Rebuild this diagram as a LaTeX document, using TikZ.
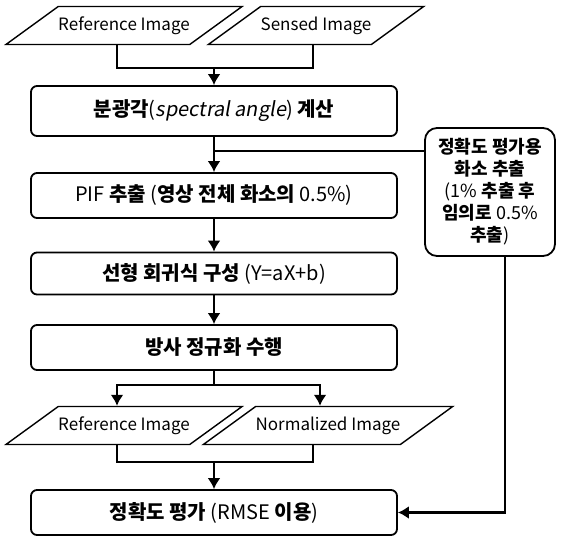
\documentclass[tikz,border=0pt]{standalone}
\usepackage{fontspec}
\setmainfont{Noto Sans CJK KR}[BoldFont={Noto Sans CJK KR Black}]
\newfontfamily\slfont{Noto Sans CJK KR}[FakeSlant=0.18]
\usetikzlibrary{shapes.geometric,arrows.meta}
\tikzset{every node/.style={align=center}, >={Latex[length=11pt,width=13pt]},
  procbox/.style={draw, rounded corners=6pt, line width=1.8pt, minimum width=366pt, minimum height=45pt, font=\fontsize{20}{23}\selectfont},
  imgbox/.style={draw, trapezium, trapezium left angle=36, trapezium right angle=144, trapezium stretches body, text height=13pt, text depth=4pt, inner xsep=0pt, inner ysep=10.5pt, minimum width=212pt, line width=1.4pt, font=\fontsize{17}{20}\selectfont},
  sidebox/.style={draw, rounded corners=12pt, line width=1.8pt, minimum width=130pt, minimum height=128pt, inner sep=2pt, font=\fontsize{18}{22}\selectfont},
  flow/.style={line width=2.6pt}}

\begin{document}
\begin{tikzpicture}[x=1pt, y=-1pt]
            \fill [white] (0,0) rectangle (562,541);
            \useasboundingbox (0,0) rectangle (562,541);

            \node [imgbox] (ref1) at (124,25.5) {Reference Image};
            \node [imgbox, minimum width=200pt] (sen1) at (316,25.5) {Sensed Image};
            \node [procbox, minimum height=50pt] (b1) at (214,111) {\textbf{분광각}({\slfont spectral angle}) \textbf{계산}};
            \node [procbox] (b2) at (214,195.5) {PIF \textbf{추출} (\textbf{영상 전체 화소의} 0.5\%)};
            \node [procbox, minimum height=42pt] (b3) at (214,273.5) {\textbf{선형 회귀식 구성} (Y=aX+b)};
            \node [procbox] (b4) at (214,347.5) {\textbf{방사 정규화 수행}};
            \node [imgbox] (ref2) at (124,425.5) {Reference Image};
            \node [imgbox, minimum width=224pt] (nor2) at (328,425.5) {Normalized Image};
            \node [procbox] (b5) at (214,512.5) {\textbf{정확도 평가} (RMSE \textbf{이용})};
            \node [sidebox] (sb) at (490,192) {\textbf{정확도 평가용}\\\textbf{화소 추출}\\(1\% \textbf{추출 후}\\\textbf{임의로} 0.5\%\\\textbf{추출})};

            \coordinate (j1) at (214,68);
            \coordinate (j2) at (214,151);
            \coordinate (j3) at (214,385);
            \coordinate (j4) at (214,462);

            \draw [flow] ([xshift=-7pt]ref1.south) |- (j1) -| ([xshift=-3pt]sen1.south);
            \draw [flow,->] (j1) -- (b1);
            \draw [flow,->] (b1) -- (b2);
            \draw [flow] (j2) -- (j2 -| sb.west);
            \draw [flow,->] (b2) -- (b3);
            \draw [flow,->] (b3) -- (b4);
            \draw [flow] (b4) -- (j3);
            \draw [flow,->] (j3) -| ([xshift=-7pt]ref2.north);
            \draw [flow,->] (j3) -| ([xshift=-8pt]nor2.north);
            \draw [flow] ([xshift=-7pt]ref2.south) |- (j4) -| ([xshift=-15pt]nor2.south);
            \draw [flow,->] (j4) -- (b5);
            \draw [flow,->] ([xshift=15pt]sb.south) |- (b5.east);

        \end{tikzpicture}
\end{document}
